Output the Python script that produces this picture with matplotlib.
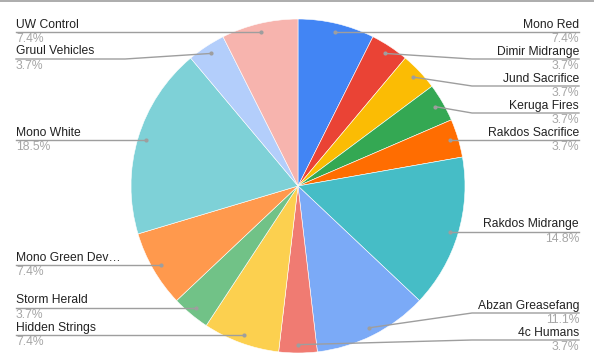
import matplotlib
matplotlib.use('Agg')
import matplotlib.pyplot as plt
import numpy as np

plt.rcParams['font.family'] = ['Liberation Sans', 'DejaVu Sans']

decks = ['Mono Red', 'Dimir Midrange', 'Jund Sacrifice', 'Keruga Fires', 'Rakdos Sacrifice',
         'Rakdos Midrange', 'Abzan Greasefang', '4c Humans', 'Hidden Strings', 'Storm Herald',
         'Mono Green Dev\u2026', 'Mono White', 'Gruul Vehicles', 'UW Control']
counts = [2, 1, 1, 1, 1, 4, 3, 1, 2, 1, 2, 5, 1, 2]
colors = ['#4285F4', '#EA4335', '#FBBC04', '#34A853', '#FF6D01', '#46BDC6', '#7BAAF7',
          '#F07B72', '#FCD04F', '#71C287', '#FF994D', '#7ED1D7', '#B3CEFB', '#F7B4AE']

W, H = 594, 356
fig = plt.figure(figsize=(W / 100, H / 100), dpi=100)
ax = fig.add_axes([0, 0, 1, 1])

cx, cy, R = 298, H - 186, 167
wedges, _ = ax.pie(counts, colors=colors, startangle=90, counterclock=False,
                   center=(cx, cy), radius=R, frame=True,
                   wedgeprops=dict(edgecolor='white', linewidth=0.4))
ax.set_xlim(0, W)
ax.set_ylim(0, H)
ax.set_aspect('equal')
ax.axis('off')

total = sum(counts)
dots = []
for w in wedges:
    a = np.deg2rad((w.theta1 + w.theta2) / 2)
    dots.append((cx + 0.95 * R * np.cos(a), cy + 0.95 * R * np.sin(a)))

# label rows: keep min spacing going down, then push up from the bottom limit
GAP = 27
TOP_Y = H - 32
BOT_Y = H - 340


def layout(idx):
    idx = sorted(idx, key=lambda i: -dots[i][1])
    ys = []
    for i in idx:
        y = min(dots[i][1], TOP_Y)
        if ys and y > ys[-1] - GAP:
            y = ys[-1] - GAP
        ys.append(y)
    for k in range(len(ys) - 1, -1, -1):
        lim = BOT_Y if k == len(ys) - 1 else ys[k + 1] + GAP
        if ys[k] < lim:
            ys[k] = lim
    return dict(zip(idx, ys))


right = [i for i in range(len(counts)) if dots[i][0] >= cx]
left = [i for i in range(len(counts)) if dots[i][0] < cx]
ly = {**layout(right), **layout(left)}

LINE = '#9e9e9e'
for i in range(len(counts)):
    dx, dy = dots[i]
    y = ly[i]
    pct = f'{100 * counts[i] / total:.1f}%'
    if dx >= cx:
        xe, xb, ha = 579, 472, 'right'
    else:
        xe, xb, ha = 16, 125, 'left'
    if abs(dy - y) < 1:
        ax.plot([dx, xe], [y, y], color=LINE, lw=1)
    else:
        ax.plot([dx, xb, xe], [dy, y, y], color=LINE, lw=1)
    ax.plot(dx, dy, 'o', color=LINE, ms=3, mec='none')
    ax.text(xe, y + 1.5, decks[i], ha=ha, va='bottom', fontsize=8.7, color='#222222')
    ax.text(xe, y - 1, pct, ha=ha, va='top', fontsize=8.7, color='#a6a6a6')

fig.add_artist(plt.Line2D([0, 1], [0.998, 0.998], color='#9e9e9e', lw=1.2,
                          transform=fig.transFigure))

fig.savefig('out.png', dpi=100, facecolor='white')
